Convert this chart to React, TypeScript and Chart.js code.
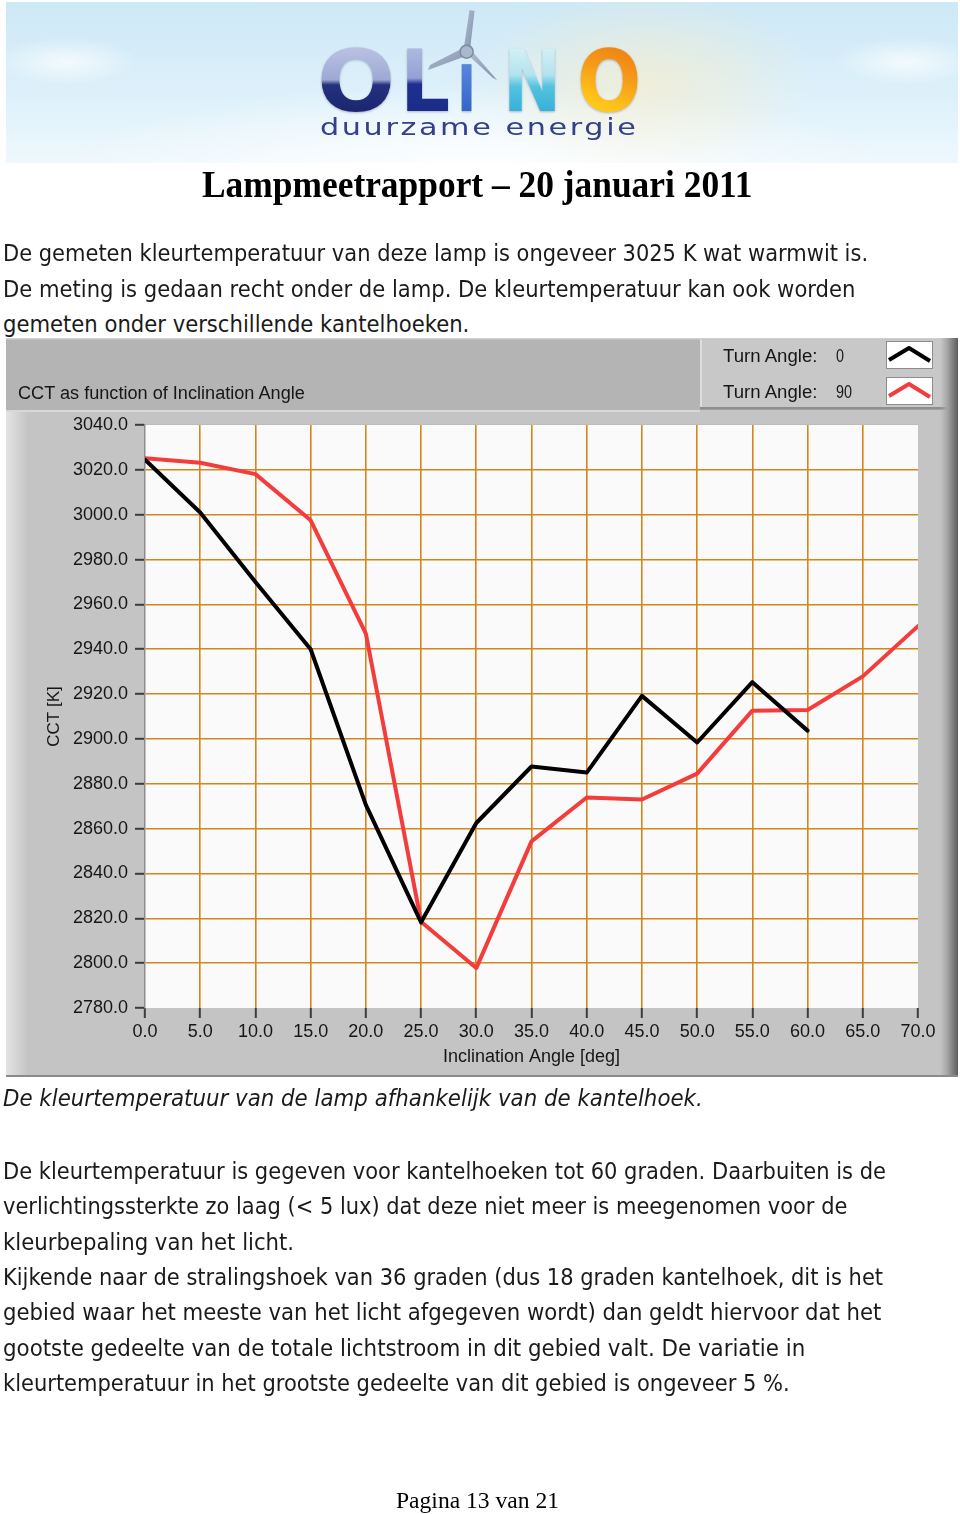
import React, { useEffect, useLayoutEffect, useRef, useState } from "react";
import { Chart, registerables } from "chart.js";

Chart.register(...registerables);

// ---------------- data ----------------
const inclinationAngles = [0, 5, 10, 15, 20, 25, 30, 35, 40, 45, 50, 55, 60, 65, 70];
const cctTurn0 = [3024.5, 3001.0, 2970.0, 2940.0, 2870.6, 2818.2, 2862.5, 2887.7, 2885.0, 2919.2, 2898.4, 2925.3, 2903.7];
const cctTurn90 = [3025.2, 3023.2, 3018.1, 2997.5, 2947.0, 2818.5, 2797.8, 2854.3, 2873.9, 2873.0, 2884.5, 2912.6, 2912.9, 2927.9, 2950.3];
const turnAngles = [0, 90];
const xAxisRange = [0, 70];
const xAxisStep = 5;
const yAxisRange = [2780, 3040];
const yAxisStep = 20;
const chartTitle = "CCT as function of Inclination Angle";
const xAxisTitle = "Inclination Angle [deg]";
const yAxisTitle = "CCT [K]";

const introLines = [
  "De gemeten kleurtemperatuur van deze lamp is ongeveer 3025 K wat warmwit is.",
  "De meting is gedaan recht onder de lamp. De kleurtemperatuur kan ook worden",
  "gemeten onder verschillende kantelhoeken.",
];
const captionLine = "De kleurtemperatuur van de lamp afhankelijk van de kantelhoek.";
const bodyLines = [
  "De kleurtemperatuur is gegeven voor kantelhoeken tot 60 graden. Daarbuiten is de",
  "verlichtingssterkte zo laag (< 5 lux) dat deze niet meer is meegenomen voor de",
  "kleurbepaling van het licht.",
  "Kijkende naar de stralingshoek van 36 graden (dus 18 graden kantelhoek, dit is het",
  "gebied waar het meeste van het licht afgegeven wordt) dan geldt hiervoor dat het",
  "gootste gedeelte van de totale lichtstroom in dit gebied valt. De variatie in",
  "kleurtemperatuur in het grootste gedeelte van dit gebied is ongeveer 5 %.",
];
const pageTitle = "Lampmeetrapport \u2013 20 januari 2011";
const footerText = "Pagina 13 van 21";

// ---------------- helpers ----------------
const BODY_FONT = "'DejaVu Sans', 'Liberation Sans', sans-serif";
const SERIF_FONT = "'Liberation Serif', 'DejaVu Serif', serif";
const LV_FONT = "'Liberation Sans', Arial, sans-serif";

type FitProps = {
  text: string;
  left: number;
  baseline: number;
  width: number;
  size: number;
  family: string;
  weight?: number | string;
  italic?: boolean;
  color?: string;
  stretch?: string;
  letterSpacing?: number;
  extra?: React.CSSProperties;
};

function FitText(p: FitProps) {
  const ref = useRef<HTMLSpanElement>(null);
  const [sx, setSx] = useState(1);
  useLayoutEffect(() => {
    const measure = () => {
      const el = ref.current;
      if (!el) return;
      const w = el.offsetWidth;
      if (w > 0) setSx(p.width / w);
    };
    measure();
    const f = (document as any).fonts;
    if (f && f.ready) f.ready.then(measure);
  }, [p.text, p.width, p.size, p.family]);
  return (
    <span
      ref={ref}
      style={{
        position: "absolute",
        left: p.left,
        top: p.baseline - p.size * 0.845,
        display: "inline-block",
        whiteSpace: "pre",
        fontSize: p.size,
        lineHeight: 1,
        fontFamily: p.family,
        fontWeight: p.weight ?? 400,
        fontStyle: p.italic ? "italic" : "normal",
        fontStretch: p.stretch ?? "normal",
        letterSpacing: p.letterSpacing ?? 0,
        color: p.color ?? "#1a1a1a",
        transform: `scaleX(${sx})`,
        transformOrigin: "0 0",
        ...p.extra,
      }}
    >
      {p.text}
    </span>
  );
}

// ---------------- chart ----------------
const panelPlugin = {
  id: "labviewPanel",
  beforeDraw(chart: any) {
    const { ctx, chartArea: a } = chart;
    const W = chart.width;
    const H = chart.height;
    ctx.save();
    ctx.fillStyle = "#c4c4c4";
    ctx.fillRect(0, 0, W, H);
    // top band
    ctx.fillStyle = "#b4b4b4";
    ctx.fillRect(0, 0, W, 72);
    ctx.fillStyle = "#d0d0d0";
    ctx.fillRect(0, 0, W, 1.5);
    ctx.fillStyle = "#d8d8d8";
    ctx.fillRect(0, 72, 694, 2);
    // legend panel
    ctx.fillStyle = "#c8c8c8";
    ctx.fillRect(694, 1.5, W - 694, 68);
    ctx.fillStyle = "#dedede";
    ctx.fillRect(694, 1.5, 2, 68);
    ctx.fillStyle = "#8e8e8e";
    ctx.fillRect(694, 69, W - 694, 2.5);
    // left bevel
    let g = ctx.createLinearGradient(0, 0, 22, 0);
    g.addColorStop(0, "#e4e4e4");
    g.addColorStop(1, "#c4c4c4");
    ctx.fillStyle = g;
    ctx.fillRect(0, 74, 22, H - 74);
    // right shade
    g = ctx.createLinearGradient(W - 18, 0, W, 0);
    g.addColorStop(0, "rgba(170,170,170,0)");
    g.addColorStop(0.4, "#a6a6a6");
    g.addColorStop(1, "#5c5c5c");
    ctx.fillStyle = g;
    ctx.fillRect(W - 18, 0, 18, H);
    // bottom edge
    ctx.fillStyle = "#8a8a8a";
    ctx.fillRect(0, H - 2, W, 2);
    // plot background
    ctx.fillStyle = "#fafafa";
    ctx.fillRect(a.left, a.top, a.right - a.left, a.bottom - a.top);
    ctx.fillStyle = "#bcbcbc";
    ctx.fillRect(a.left, a.top - 1, a.right - a.left, 1);
    ctx.restore();
  },
};

const GRID_ORANGE = "#d6841c";

function CctChart() {
  const ref = useRef<HTMLCanvasElement>(null);
  useEffect(() => {
    if (!ref.current) return;
    const edgeColor = (lo: number, hi: number) => (c: any) =>
      c.tick && (c.tick.value === lo || c.tick.value === hi) ? "rgba(0,0,0,0)" : GRID_ORANGE;
    const chart = new Chart(ref.current, {
      type: "line",
      data: {
        datasets: [
          {
            label: `Turn Angle: ${turnAngles[0]}`,
            data: cctTurn0.map((v, i) => ({ x: inclinationAngles[i], y: v })),
            borderColor: "#000000",
            borderWidth: 4,
            pointRadius: 0,
            tension: 0,
            borderJoinStyle: "round",
            borderCapStyle: "round",
          },
          {
            label: `Turn Angle: ${turnAngles[1]}`,
            data: cctTurn90.map((v, i) => ({ x: inclinationAngles[i], y: v })),
            borderColor: "#f33d3d",
            borderWidth: 4,
            pointRadius: 0,
            tension: 0,
            borderJoinStyle: "round",
            borderCapStyle: "round",
          },
        ],
      },
      options: {
        responsive: false,
        maintainAspectRatio: false,
        animation: false,
        devicePixelRatio: 1,
        layout: { padding: { left: 0, top: 87, right: 40, bottom: 0 } },
        plugins: {
          legend: { display: false },
          title: { display: false },
          tooltip: { enabled: false },
        },
        scales: {
          x: {
            type: "linear",
            min: xAxisRange[0],
            max: xAxisRange[1],
            afterFit: (s: any) => {
              s.height = 69;
            },
            ticks: {
              stepSize: xAxisStep,
              autoSkip: false,
              maxRotation: 0,
              padding: 3,
              color: "#161616",
              font: { family: LV_FONT, size: 18 },
              callback: (v: any) => Number(v).toFixed(1),
            },
            grid: {
              color: edgeColor(xAxisRange[0], xAxisRange[1]),
              lineWidth: 1.6,
              tickColor: "#3c3c3c",
              tickLength: 10,
              tickWidth: 2,
              drawTicks: true,
            },
            border: { display: false },
            title: {
              display: true,
              text: xAxisTitle,
              color: "#161616",
              font: { family: LV_FONT, size: 18 },
              padding: { top: 0, bottom: 9.5 },
            },
          },
          y: {
            type: "linear",
            min: yAxisRange[0],
            max: yAxisRange[1],
            afterFit: (s: any) => {
              s.width = 139;
            },
            ticks: {
              stepSize: yAxisStep,
              padding: 7,
              color: "#161616",
              font: { family: LV_FONT, size: 18 },
              callback: (v: any) => Number(v).toFixed(1),
            },
            grid: {
              color: edgeColor(yAxisRange[0], yAxisRange[1]),
              lineWidth: 1.6,
              tickColor: "#3c3c3c",
              tickLength: 10,
              tickWidth: 2,
              drawTicks: true,
            },
            border: { display: true, color: "#8c8c8c", width: 1.5 },
            title: {
              display: true,
              text: yAxisTitle,
              color: "#161616",
              font: { family: LV_FONT, size: 17 },
              padding: { top: 38, bottom: 0 },
            },
          },
        },
      } as any,
      plugins: [panelPlugin],
    });
    return () => chart.destroy();
  }, []);
  return (
    <canvas
      ref={ref}
      width={952}
      height={739}
      style={{ position: "absolute", left: 6, top: 338, width: 952, height: 739 }}
    />
  );
}

function ChartLegend() {
  const colors = ["#000000", "#f33d3d"];
  return (
    <>
      <FitText text={chartTitle} left={18} baseline={399} width={287} size={18} family={LV_FONT} color="#161616" />
      {turnAngles.map((t, i) => (
        <React.Fragment key={t}>
          <FitText text="Turn Angle:" left={723} baseline={362 + i * 36} width={94} size={18} family={LV_FONT} color="#161616" />
          <FitText text={String(t)} left={836} baseline={362 + i * 36} width={String(t).length * 8} size={18} family={LV_FONT} color="#161616" />
          <div
            style={{
              position: "absolute",
              left: 886,
              top: 341 + i * 36,
              width: 47,
              height: 28,
              background: "#ffffff",
              border: "1px solid #8c8c8c",
              boxSizing: "border-box",
            }}
          >
            <svg width={45} height={26} style={{ display: "block" }}>
              <polyline points="2,18 22,6 43,19" stroke={colors[i]} strokeWidth={4} fill="none" strokeLinejoin="round" />
            </svg>
          </div>
        </React.Fragment>
      ))}
    </>
  );
}

function Header() {
  const letters = [
    { ch: "O", left: 317, width: 78, bg: "linear-gradient(180deg, #c2c8e6 0%, #9ea8d4 48%, #24317d 54%, #16216a 100%)" },
    { ch: "L", left: 400, width: 50, bg: "linear-gradient(180deg, #b6bfe4 0%, #95a1d4 46%, #1f2f8e 53%, #182a86 100%)" },
    { ch: "\u0131", left: 457, width: 19, bg: "linear-gradient(180deg, #6b9ae6 0%, #2a5cc4 100%)" },
    { ch: "N", left: 503, width: 58, bg: "linear-gradient(180deg, #dff4f8 0%, #b2e3ef 42%, #52c3df 56%, #2aa6d6 100%)" },
    { ch: "O", left: 577, width: 64, bg: "linear-gradient(200deg, #ee7510 0%, #f59a18 40%, #ffc41a 72%, #ffd424 100%)" },
  ];
  return (
    <>
      <div
        style={{
          position: "absolute",
          left: 6,
          top: 2,
          width: 952,
          height: 161,
          background:
            "radial-gradient(ellipse 240px 130px at 640px 80px, rgba(255,236,190,0.55), rgba(255,236,190,0) 70%)," +
            "radial-gradient(ellipse 520px 110px at 470px 170px, rgba(255,255,255,0.95), rgba(255,255,255,0) 80%)," +
            "radial-gradient(ellipse 90px 30px at 60px 60px, rgba(255,255,255,0.7), rgba(255,255,255,0) 80%)," +
            "radial-gradient(ellipse 90px 30px at 900px 60px, rgba(255,255,255,0.7), rgba(255,255,255,0) 80%)," +
            "linear-gradient(180deg, #cde8f6 0%, #dcf0fa 55%, #eef8fd 100%)",
        }}
      />
      {letters.map((l, i) => (
        <FitText
          key={i}
          text={l.ch}
          left={l.left}
          baseline={111}
          width={l.width}
          size={85}
          family={BODY_FONT}
          weight={700}
          color="transparent"
          extra={{
            backgroundImage: l.bg,
            WebkitBackgroundClip: "text",
            backgroundClip: "text",
            WebkitTextFillColor: "transparent",
            filter: "drop-shadow(0 1px 1px rgba(60,60,90,0.35))",
          }}
        />
      ))}
      <svg width={960} height={165} style={{ position: "absolute", left: 0, top: 0 }}>
        <defs>
          <linearGradient id="blade" x1="0" y1="0" x2="1" y2="1">
            <stop offset="0" stopColor="#b3c0d2" />
            <stop offset="1" stopColor="#7f8fa9" />
          </linearGradient>
        </defs>
        <polygon points="463.5,50 469.5,10 474.5,11 470,50" fill="url(#blade)" />
        <polygon points="463,48 430,65 428,70 466,56" fill="url(#blade)" />
        <polygon points="468,55 493,78 497,80 471,50" fill="url(#blade)" />
        <circle cx={466.6} cy={51.7} r={6.5} fill="#a9b8cd" stroke="#7b8ba5" strokeWidth={1.5} />
      </svg>
      <FitText text="duurzame energie" left={320} baseline={135} width={318} size={23} family={BODY_FONT} letterSpacing={2} color="#34408a" />
    </>
  );
}

export default function App() {
  const introBaselines = [262, 297.5, 333];
  const introWidths = [865, 852, 466];
  const bodyBaselines = [1180, 1215.3, 1250.6, 1286, 1321.3, 1356.6, 1392];
  const bodyWidths = [883, 844, 291, 880, 878, 802, 787];
  return (
    <div
      style={{
        position: "absolute",
        left: 0,
        top: 0,
        width: 960,
        height: 1514,
        background: "#ffffff",
        overflow: "hidden",
      }}
    >
      <Header />
      <FitText text={pageTitle} left={202} baseline={197} width={551} size={37} family={SERIF_FONT} weight={700} color="#000000" />
      {introLines.map((t, i) => (
        <FitText key={i} text={t} left={3} baseline={introBaselines[i]} width={introWidths[i]} size={23.5} family={BODY_FONT} stretch="condensed" />
      ))}
      <CctChart />
      <ChartLegend />
      <FitText text={captionLine} left={3} baseline={1106.5} width={700} size={23.5} family={BODY_FONT} stretch="condensed" italic />
      {bodyLines.map((t, i) => (
        <FitText key={i} text={t} left={3} baseline={bodyBaselines[i]} width={bodyWidths[i]} size={23.5} family={BODY_FONT} stretch="condensed" />
      ))}
      <FitText text={footerText} left={396} baseline={1508} width={163} size={23} family={SERIF_FONT} color="#000000" />
    </div>
  );
}
